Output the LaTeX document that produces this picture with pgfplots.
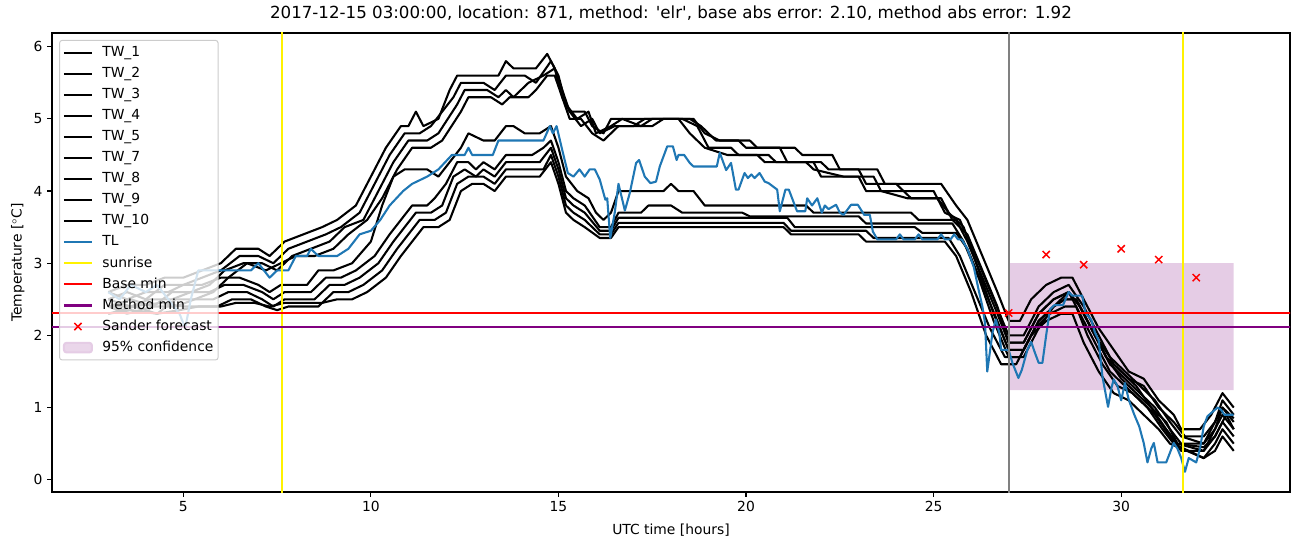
\documentclass[border=0pt]{standalone}
\usepackage{pgfplots}
\pgfplotsset{compat=1.18}
\usepackage{fontspec}
\setmainfont{DejaVu Sans}
\definecolor{tabblue}{RGB}{31,119,180}
\definecolor{mplpurple}{RGB}{128,0,128}
\definecolor{mplgray}{RGB}{128,128,128}
\definecolor{confcol}{RGB}{229,204,229}
\definecolor{legedge}{RGB}{204,204,204}
\begin{document}
\begin{tikzpicture}
\path (0,0) rectangle (976.5pt,410.25pt);
\begin{axis}[
  at={(39pt,41.25pt)}, anchor=south west,
  scale only axis, width=928.5pt, height=344.25pt,
  xmin=1.5, xmax=34.5, ymin=-0.17, ymax=6.19,
  xtick={5,10,15,20,25,30}, ytick={0,1,2,3,4,5,6},
  tick align=outside, tick pos=left,
  major tick length=3.6pt,
  every tick/.style={black, line width=0.83pt},
  axis line style={line width=0.83pt},
  /pgf/number format/assume math mode=true,
  tick label style={font=\fontsize{10.4}{12}\selectfont},
  label style={font=\fontsize{10.4}{12}\selectfont},
  xlabel style={yshift=-2pt},
  title style={font=\fontsize{12.5}{15}\selectfont, yshift=0pt},
  title={2017-12-15 03:00:00, location: 871, method: \textquotesingle elr\textquotesingle, base abs error: 2.10, method abs error: 1.92},
  xlabel={UTC time [hours]},
  ylabel={Temperature [$^\circ$C]},
  legend cell align=left,
  legend style={at={(0.0057,0.985)}, anchor=north west,
    font=\fontsize{10.4}{12}\selectfont,
    fill=white, fill opacity=0.8, text opacity=1, draw opacity=1,
    draw=legedge, rounded corners=2pt, line width=0.75pt,
    nodes={inner sep=1pt, text height=8pt, text depth=2.5pt},
    row sep=3.3pt, inner xsep=2.5pt, inner ysep=3pt,
    /tikz/every odd column/.append style={column sep=6pt}},
  legend image code/.code={\draw[mark repeat=2,mark phase=2,#1] plot coordinates {(0pt,0pt) (10.5pt,0pt) (21pt,0pt)};},
  every axis plot/.append style={line width=1.56pt, line join=round},
]
% confidence area (drawn beneath)
\addplot[fill=confcol, draw=none, forget plot] coordinates {(27,1.24) (33,1.24) (33,3.0) (27,3.0) (27,1.24)};
% TW_1
\addplot[black] coordinates {(3,2.6) (3.5,2.7) (4,2.7) (4.5,2.8) (5,2.8) (5.5,2.9) (6,3.0) (6.4,3.2) (7,3.2) (7.3,3.1) (7.7,3.3) (8.2,3.4) (8.7,3.5) (9.1,3.6) (9.6,3.8) (10,4.2) (10.4,4.6) (10.8,4.9) (11.0,4.9) (11.2,5.1) (11.4,4.9) (11.8,5.0) (12.1,5.4) (12.3,5.6) (13.4,5.6) (13.6,5.8) (13.8,5.7) (14.4,5.7) (14.7,5.9) (14.9,5.7) (15.1,5.3) (15.3,5.1) (15.7,5.1) (15.9,4.9) (16.2,4.8) (16.4,5.0) (18.5,5.0) (18.8,4.9) (19.2,4.7) (20.1,4.7) (20.3,4.6) (21.3,4.6) (21.5,4.5) (22.3,4.5) (22.5,4.3) (23.5,4.3) (23.7,4.1) (25.2,4.1) (25.6,3.8) (25.9,3.6) (26.3,3.1) (26.7,2.6) (27.0,2.2) (27.3,2.2) (27.6,2.5) (28.0,2.7) (28.4,2.8) (28.7,2.8) (29.0,2.5) (29.4,2.1) (29.8,1.8) (30.2,1.5) (30.6,1.4) (31.0,1.1) (31.4,0.9) (31.6,0.7) (32.1,0.7) (32.4,0.9) (32.7,1.2) (33,1.0)};
\addlegendentry{TW\_1}
% TW_2
\addplot[black] coordinates {(3,2.5) (3.5,2.6) (4,2.5) (4.5,2.7) (5,2.7) (5.5,2.8) (6,2.9) (6.5,3.1) (7,3.1) (7.4,3.0) (7.8,3.2) (8.3,3.3) (8.8,3.4) (9.2,3.5) (9.7,3.7) (10.1,4.1) (10.5,4.5) (10.9,4.8) (11.3,4.8) (11.6,4.9) (12.2,5.3) (12.4,5.5) (13.0,5.5) (13.3,5.4) (13.6,5.6) (14.1,5.6) (14.4,5.5) (14.8,5.8) (15.0,5.6) (15.2,5.2) (15.5,5.0) (15.8,5.1) (16.0,4.8) (16.4,4.9) (16.7,5.0) (17.2,4.9) (17.5,5.0) (18.6,5.0) (18.9,4.8) (19.3,4.7) (19.8,4.7) (20.0,4.6) (20.9,4.6) (21.1,4.4) (22.0,4.4) (22.2,4.3) (23.0,4.3) (23.2,4.1) (24.0,4.1) (24.2,4.0) (25.0,4.0) (25.3,3.7) (25.7,3.6) (26.2,3.0) (26.6,2.5) (27.0,2.0) (27.4,2.0) (27.8,2.4) (28.2,2.6) (28.6,2.7) (29.0,2.4) (29.4,2.0) (29.8,1.6) (30.2,1.4) (30.6,1.3) (31.0,1.0) (31.4,0.8) (31.7,0.6) (32.2,0.6) (32.5,0.8) (32.7,1.1) (33,0.9)};
\addlegendentry{TW\_2}
% TW_3
\addplot[black] coordinates {(3,2.4) (3.6,2.5) (4.2,2.4) (4.7,2.6) (5.2,2.6) (5.7,2.7) (6.1,2.9) (6.6,3.0) (7.1,3.0) (7.5,2.9) (7.9,3.1) (8.4,3.2) (8.9,3.3) (9.3,3.5) (9.8,3.6) (10.2,4.0) (10.6,4.4) (11.0,4.7) (11.5,4.7) (11.8,4.8) (12.3,5.2) (12.5,5.4) (13.1,5.4) (13.4,5.3) (13.6,5.4) (13.8,5.3) (14.2,5.5) (14.6,5.6) (14.9,5.7) (15.1,5.4) (15.3,5.1) (15.6,4.9) (15.9,5.0) (16.1,4.8) (16.5,4.9) (17.0,4.9) (17.3,5.0) (18.3,5.0) (18.7,4.9) (19.0,4.6) (19.6,4.6) (19.8,4.5) (20.6,4.5) (20.8,4.4) (21.8,4.4) (22.0,4.2) (23.0,4.2) (23.2,4.0) (24.2,4.0) (24.4,3.9) (25.2,3.9) (25.5,3.6) (25.9,3.4) (26.3,2.9) (26.7,2.4) (27.0,1.9) (27.4,1.9) (27.8,2.3) (28.2,2.5) (28.6,2.6) (28.9,2.4) (29.3,2.0) (29.7,1.7) (30.1,1.5) (30.5,1.3) (30.9,1.1) (31.3,0.8) (31.6,0.6) (32.2,0.5) (32.5,0.7) (32.7,1.0) (33,0.8)};
\addlegendentry{TW\_3}
% TW_4
\addplot[black] coordinates {(3,2.3) (3.7,2.4) (4.3,2.3) (4.8,2.5) (5.3,2.5) (5.8,2.6) (6.2,2.8) (6.7,3.0) (7.2,2.9) (7.6,3.0) (8.0,3.1) (8.5,3.1) (9.0,3.2) (9.4,3.4) (9.9,3.6) (10.3,3.9) (10.7,4.3) (11.1,4.6) (11.6,4.6) (11.9,4.7) (12.4,5.1) (12.6,5.3) (13.2,5.3) (13.5,5.2) (13.7,5.3) (14.2,5.3) (14.4,5.4) (14.7,5.6) (14.9,5.6) (15.1,5.3) (15.3,5.0) (15.6,5.0) (15.9,4.8) (16.2,4.7) (16.6,4.9) (17.5,4.9) (17.8,5.0) (18.2,5.0) (18.5,4.8) (18.9,4.6) (19.5,4.5) (20.3,4.5) (20.5,4.4) (21.6,4.4) (21.8,4.3) (22.6,4.2) (23.4,4.2) (23.6,4.0) (24.3,3.9) (25.1,3.9) (25.4,3.7) (25.8,3.5) (26.2,2.9) (26.6,2.3) (27.0,1.8) (27.4,1.8) (27.8,2.2) (28.2,2.4) (28.5,2.5) (28.8,2.5) (29.2,2.1) (29.6,1.7) (30.0,1.5) (30.4,1.3) (30.8,1.0) (31.2,0.7) (31.5,0.5) (32.2,0.4) (32.5,0.6) (32.8,0.9) (33,0.7)};
\addlegendentry{TW\_4}
% TW_5
\addplot[black] coordinates {(3,2.6) (3.5,2.5) (4,2.6) (4.6,2.6) (5,2.7) (5.5,2.7) (6,2.8) (6.5,2.8) (7,2.7) (7.3,2.6) (7.6,2.7) (8.3,2.7) (8.6,2.9) (9,2.9) (9.5,3.0) (10,3.3) (10.3,3.8) (10.6,4.2) (10.9,4.3) (11.5,4.3) (11.8,4.2) (12.1,4.4) (12.4,4.6) (12.6,4.8) (13.0,4.7) (13.3,4.7) (13.6,4.9) (13.8,4.9) (14.1,4.8) (14.5,4.8) (14.8,4.9) (15.0,4.6) (15.2,4.2) (15.5,4.0) (15.8,3.9) (16.0,3.7) (16.2,3.6) (16.4,3.7) (16.6,4.0) (17.8,4.0) (18.0,4.1) (18.2,4.0) (18.6,4.0) (18.9,3.8) (21.6,3.8) (21.8,3.7) (24.4,3.7) (24.6,3.6) (25.6,3.6) (25.9,3.3) (26.3,2.8) (26.7,2.3) (27.0,1.9) (27.4,1.9) (27.8,2.3) (28.2,2.5) (28.6,2.6) (28.9,2.4) (29.3,2.0) (29.7,1.6) (30.1,1.4) (30.5,1.2) (30.9,1.0) (31.3,0.7) (31.6,0.5) (32.2,0.5) (32.5,0.8) (32.7,1.0) (33,0.85)};
\addlegendentry{TW\_5}
% TW_7
\addplot[black] coordinates {(3,2.5) (3.6,2.4) (4.1,2.5) (4.7,2.5) (5.2,2.6) (5.7,2.6) (6.1,2.7) (6.6,2.7) (7.1,2.6) (7.4,2.5) (7.7,2.6) (8.4,2.6) (8.8,2.8) (9.2,2.8) (9.6,2.9) (10.1,3.1) (10.5,3.4) (10.8,3.6) (11.1,3.8) (11.5,3.8) (11.7,3.9) (12.0,4.1) (12.3,4.4) (12.6,4.4) (12.8,4.3) (13.0,4.4) (13.3,4.3) (13.6,4.5) (14.3,4.5) (14.6,4.6) (14.8,4.7) (15.0,4.4) (15.2,4.0) (15.4,3.9) (15.7,3.8) (16.1,3.5) (16.4,3.5) (16.6,3.7) (17.2,3.7) (17.4,3.8) (18.0,3.8) (18.3,3.7) (19.9,3.7) (20.1,3.65) (23.0,3.65) (23.2,3.55) (25.5,3.55) (25.8,3.3) (26.2,2.8) (26.6,2.2) (27.0,1.7) (27.4,1.7) (27.8,2.1) (28.2,2.4) (28.6,2.6) (28.9,2.3) (29.3,1.9) (29.7,1.5) (30.1,1.3) (30.5,1.1) (30.9,0.9) (31.3,0.6) (31.6,0.4) (32.2,0.4) (32.5,0.7) (32.7,0.9) (33,0.7)};
\addlegendentry{TW\_7}
% TW_8
\addplot[black] coordinates {(3,2.4) (3.5,2.3) (4.2,2.4) (4.8,2.4) (5.3,2.5) (5.8,2.5) (6.2,2.6) (6.7,2.6) (7.1,2.5) (7.4,2.4) (7.7,2.5) (8.5,2.5) (8.9,2.7) (9.3,2.7) (9.7,2.8) (10.2,3.0) (10.6,3.3) (10.9,3.5) (11.2,3.7) (11.6,3.7) (11.9,3.8) (12.2,4.2) (12.5,4.3) (12.8,4.2) (13.0,4.3) (13.3,4.2) (13.6,4.4) (14.5,4.4) (14.8,4.6) (15.0,4.3) (15.2,3.9) (15.4,3.8) (15.7,3.7) (16.1,3.45) (16.4,3.45) (16.6,3.63) (21.1,3.63) (21.3,3.5) (24.5,3.5) (24.7,3.42) (25.6,3.42) (25.9,3.2) (26.3,2.7) (26.7,2.2) (27.0,1.8) (27.4,1.8) (27.8,2.2) (28.2,2.4) (28.5,2.5) (28.8,2.5) (29.2,2.1) (29.6,1.7) (30.0,1.4) (30.4,1.2) (30.8,1.0) (31.2,0.8) (31.5,0.5) (32.2,0.45) (32.5,0.6) (32.7,0.8) (33,0.6)};
\addlegendentry{TW\_8}
% TW_9
\addplot[black] coordinates {(3,2.3) (3.6,2.35) (4.3,2.3) (4.9,2.35) (5.4,2.4) (5.9,2.4) (6.3,2.5) (6.8,2.5) (7.2,2.4) (7.5,2.35) (7.8,2.4) (8.6,2.4) (9.0,2.6) (9.4,2.6) (9.8,2.7) (10.3,2.9) (10.7,3.2) (11.0,3.4) (11.3,3.6) (11.7,3.6) (12.0,3.7) (12.3,4.1) (12.6,4.2) (13.0,4.2) (13.3,4.1) (13.6,4.3) (14.6,4.3) (14.8,4.5) (15.0,4.2) (15.2,3.8) (15.4,3.7) (15.7,3.6) (16.1,3.4) (16.4,3.4) (16.6,3.56) (21.0,3.56) (21.2,3.45) (23.2,3.45) (23.4,3.35) (25.4,3.35) (25.7,3.1) (26.1,2.6) (26.5,2.1) (26.9,1.7) (27.3,1.7) (27.7,2.1) (28.1,2.3) (28.5,2.4) (28.8,2.4) (29.1,2.0) (29.5,1.6) (29.9,1.3) (30.3,1.2) (30.7,1.0) (31.1,0.7) (31.4,0.5) (32.2,0.3) (32.5,0.5) (32.7,0.7) (33,0.5)};
\addlegendentry{TW\_9}
% TW_10
\addplot[black] coordinates {(3,2.4) (3.6,2.4) (4.4,2.45) (5.0,2.4) (5.5,2.4) (6.0,2.4) (6.4,2.45) (6.9,2.45) (7.3,2.4) (7.7,2.45) (8.7,2.45) (9.1,2.5) (9.5,2.5) (9.9,2.6) (10.4,2.8) (10.8,3.1) (11.1,3.3) (11.4,3.5) (11.8,3.5) (12.1,3.6) (12.4,4.0) (12.7,4.1) (13.0,4.1) (13.3,4.0) (13.6,4.2) (14.5,4.2) (14.8,4.4) (15.0,4.1) (15.2,3.7) (15.4,3.6) (15.7,3.5) (16.1,3.35) (16.4,3.35) (16.6,3.5) (21.0,3.5) (21.2,3.4) (23.0,3.4) (23.2,3.3) (25.3,3.3) (25.6,3.1) (26.0,2.6) (26.4,2.0) (26.8,1.6) (27.2,1.6) (27.6,2.0) (28.0,2.2) (28.4,2.3) (28.7,2.3) (29.0,1.9) (29.4,1.5) (29.8,1.2) (30.2,1.1) (30.6,0.9) (31.0,0.7) (31.3,0.5) (32.2,0.3) (32.5,0.4) (32.7,0.6) (33,0.4)};
\addlegendentry{TW\_10}
% TL
\addplot[tabblue] coordinates {(3,2.6) (3.3,2.5) (3.6,2.7) (4.0,2.6) (4.3,2.7) (4.6,2.5) (4.9,2.3) (5.05,2.1) (5.2,2.5) (5.4,2.9) (6.0,2.9) (6.8,2.9) (7.0,3.0) (7.3,2.8) (7.5,2.9) (7.8,2.9) (8.0,3.1) (8.3,3.1) (8.4,3.2) (8.6,3.1) (9.1,3.1) (9.4,3.2) (9.7,3.4) (10.0,3.45) (10.25,3.6) (10.5,3.8) (10.86,4.0) (11.1,4.1) (11.5,4.2) (11.8,4.3) (12.16,4.5) (12.5,4.5) (12.6,4.6) (12.7,4.5) (13.25,4.5) (13.4,4.7) (14.6,4.7) (14.77,4.9) (14.85,4.8) (14.95,4.9) (15.1,4.57) (15.25,4.25) (15.4,4.2) (15.56,4.3) (15.7,4.2) (15.83,4.3) (15.97,4.3) (16.1,4.16) (16.25,3.88) (16.3,3.9) (16.38,3.35) (16.5,3.7) (16.6,4.1) (16.77,3.73) (16.9,3.97) (17.07,4.39) (17.15,4.43) (17.3,4.2) (17.45,4.11) (17.6,4.13) (17.7,4.34) (17.9,4.62) (18.05,4.62) (18.15,4.43) (18.2,4.5) (18.35,4.5) (18.5,4.39) (18.6,4.34) (19.22,4.34) (19.3,4.53) (19.47,4.29) (19.6,4.39) (19.73,4.02) (19.8,4.02) (19.96,4.25) (20.05,4.18) (20.14,4.23) (20.23,4.18) (20.36,4.25) (20.5,4.13) (20.6,4.11) (20.83,4.02) (20.9,3.72) (21.05,4.02) (21.14,4.02) (21.36,3.72) (21.58,3.72) (21.63,3.9) (21.76,3.8) (21.9,3.9) (22.02,3.7) (22.1,3.8) (22.2,3.75) (22.4,3.81) (22.5,3.7) (22.6,3.67) (22.8,3.81) (22.98,3.81) (23.15,3.67) (23.3,3.67) (23.38,3.44) (23.5,3.33) (24.0,3.33) (24.1,3.4) (24.2,3.33) (24.5,3.33) (24.6,3.4) (24.7,3.33) (25.1,3.33) (25.2,3.4) (25.3,3.33) (25.45,3.33) (25.55,3.4) (25.65,3.33) (25.75,3.33) (25.9,3.2) (26.07,2.95) (26.2,2.63) (26.3,2.4) (26.37,2.17) (26.43,1.5) (26.57,2.04) (26.66,2.22) (26.75,2.04) (26.8,1.8) (27.0,1.8) (27.1,1.62) (27.26,1.41) (27.35,1.52) (27.5,1.8) (27.6,1.91) (27.7,1.76) (27.8,1.62) (27.9,1.62) (28.0,2.0) (28.1,2.36) (28.22,2.42) (28.45,2.42) (28.55,2.54) (28.6,2.6) (28.7,2.55) (28.96,2.55) (29.05,2.31) (29.2,2.22) (29.3,2.04) (29.4,1.93) (29.5,1.43) (29.65,1.01) (29.74,1.27) (29.8,1.39) (29.9,1.3) (30.0,1.1) (30.1,1.34) (30.2,1.11) (30.35,0.9) (30.48,0.74) (30.6,0.51) (30.7,0.24) (30.8,0.43) (30.87,0.51) (30.97,0.24) (31.2,0.24) (31.4,0.51) (31.5,0.43) (31.6,0.3) (31.7,0.11) (31.8,0.3) (31.9,0.27) (32.0,0.24) (32.1,0.43) (32.2,0.74) (32.3,0.88) (32.5,0.97) (32.57,1.0) (32.66,0.97) (32.75,0.9) (33.0,0.9)};
\addlegendentry{TL}
% sunrise
\addplot[yellow] coordinates {(7.64,-1) (7.64,7)};
\addlegendentry{sunrise}
\addplot[yellow, forget plot] coordinates {(31.65,-1) (31.65,7)};
% base min / method min
\addplot[red] coordinates {(0,2.31) (40,2.31)};
\addlegendentry{Base min}
\addplot[mplpurple] coordinates {(0,2.12) (40,2.12)};
\addlegendentry{Method min}
% Sander forecast
\addplot[red, only marks, mark=x, mark size=3.8pt, mark options={line width=1.1pt}] coordinates {(27,2.31) (28,3.12) (29,2.98) (30,3.2) (31,3.05) (32,2.8)};
\addlegendentry{Sander forecast}
% gray line
\addplot[mplgray, forget plot] coordinates {(27,-1) (27,7)};
\addlegendimage{legend image code/.code={\fill[confcol] (0pt,-3.6pt) rectangle (21pt,3.6pt);}}
\addlegendentry{95\% confidence}
\end{axis}
\end{tikzpicture}
\end{document}
